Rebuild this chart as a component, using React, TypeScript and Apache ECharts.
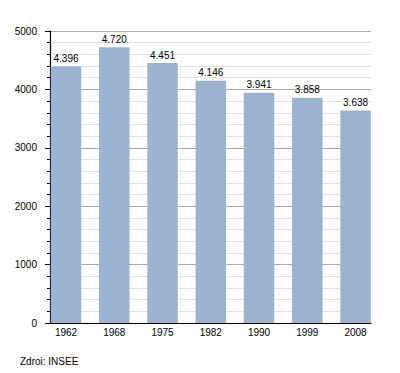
import React, { useEffect, useRef } from "react";
import * as echarts from "echarts";

const years = ["1962", "1968", "1975", "1982", "1990", "1999", "2008"];
const population = [4396, 4720, 4451, 4146, 3941, 3858, 3638];
const yTicks = [0, 1000, 2000, 3000, 4000, 5000];
const sourceText = "Zdroj: INSEE";

const fmt = (v: number) => {
  const s = String(Math.round(v));
  return s.length > 3 ? s.slice(0, s.length - 3) + "." + s.slice(-3) : s;
};

export default function App() {
  const ref = useRef<HTMLDivElement>(null);
  useEffect(() => {
    if (!ref.current) return;
    const chart = echarts.init(ref.current, null, { renderer: "svg" });
    const font = "'Liberation Sans', Arial, sans-serif";
    chart.setOption({
      animation: false,
      backgroundColor: "#ffffff",
      textStyle: { fontFamily: font },
      grid: { left: 50, right: 29, top: 31, bottom: 50, containLabel: false },
      xAxis: {
        type: "value",
        min: -0.332,
        max: 6.32,
        splitLine: { show: false },
        axisTick: { show: false },
        axisLine: { show: true, onZero: false, lineStyle: { color: "#000", width: 1.2 } },
        axisLabel: {
          customValues: years.map((_, i) => i),
          formatter: (v: number) => years[Math.round(v)] ?? "",
          color: "#000",
          fontSize: 10,
          fontFamily: font,
          margin: 4,
        },
      },
      yAxis: {
        type: "value",
        min: yTicks[0],
        max: yTicks[yTicks.length - 1],
        interval: 1000,
        axisLine: { show: true, onZero: false, lineStyle: { color: "#000", width: 1.2 } },
        axisTick: { show: true, length: 5, lineStyle: { color: "#000" } },
        minorTick: { show: true, splitNumber: 5, length: 3, lineStyle: { color: "#000" } },
        splitLine: { show: true, lineStyle: { color: "#a8a8a8", width: 1 } },
        minorSplitLine: { show: true, lineStyle: { color: "#e2e2e2", width: 1 } },
        axisLabel: {
          color: "#000",
          fontSize: 10,
          fontFamily: font,
          margin: 13,
          formatter: (v: number) => String(v),
        },
      },
      series: [
        {
          type: "bar",
          barWidth: 30.5,
          data: population.map((v, i) => [i, v]),
          itemStyle: { color: "#9bb3ce" },
          label: {
            show: true,
            position: "top",
            distance: 3,
            color: "#000",
            fontSize: 10,
            fontFamily: font,
            formatter: (p: any) => fmt(p.value[1]),
          },
        },
      ],
      graphic: [
        {
          type: "text",
          left: 20,
          top: 356,
          style: { text: sourceText, fill: "#000", fontSize: 10, fontFamily: font },
        },
      ],
    });
    return () => chart.dispose();
  }, []);
  return <div ref={ref} style={{ width: 400, height: 373, margin: -8 }} />;
}
